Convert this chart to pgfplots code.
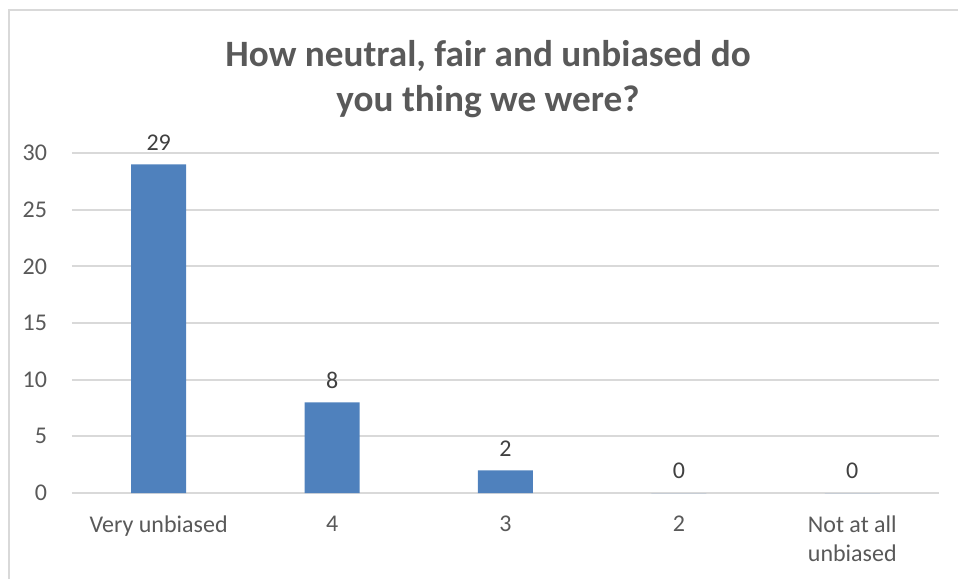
\documentclass[border=0pt]{standalone}
\usepackage{fontspec}
\setmainfont{Carlito}
\usepackage{pgfplots}
\pgfplotsset{compat=1.18}
\definecolor{barblue}{HTML}{4F81BD}
\definecolor{txtgray}{HTML}{595959}
\definecolor{lblgray}{HTML}{404040}
\definecolor{gridgray}{HTML}{D9D9D9}

\begin{document}
\begin{tikzpicture}
% frame and title, laid out on a 958 x 579 grid with y running downward
\begin{scope}[x=0.5pt,y=-0.5pt]
  \useasboundingbox (0,0) rectangle (958,579);
  \draw[gridgray, line width=1pt] (8.5,579) -- (8.5,9.5) -- (958,9.5);
  \node[font=\bfseries\fontsize{18.6}{22.5}\selectfont, text=txtgray, align=center]
    at (488,79) {How neutral, fair and unbiased do\\you thing we were?};
\end{scope}
\begin{axis}[
  at={(36pt,-246.5pt)}, anchor=south west,
  scale only axis, width=433.5pt, height=170pt,
  xmin=-0.5, xmax=4.5, ymin=0, ymax=30,
  ytick={0,5,...,30},
  xtick=data,
  xticklabels={Very unbiased,4,3,2,{Not at all\\unbiased}},
  axis line style={draw=none},
  major tick length=0pt,
  ymajorgrids,
  major grid style={gridgray, line width=1pt},
  /pgf/number format/assume math mode=true,
  tick label style={font=\fontsize{12}{14.6}\selectfont, text=txtgray},
  xticklabel style={align=center, anchor=north, yshift=-8pt},
  yticklabel style={xshift=-9pt},
  ybar, bar width=27.5pt,
  nodes near coords,
  every node near coord/.append style={font=\fontsize{12}{14.6}\selectfont, text=lblgray, yshift=3.5pt},
]
\addplot[fill=barblue, draw=none] coordinates {(0,29) (1,8) (2,2) (3,0) (4,0)};
\end{axis}
\end{tikzpicture}
\end{document}
